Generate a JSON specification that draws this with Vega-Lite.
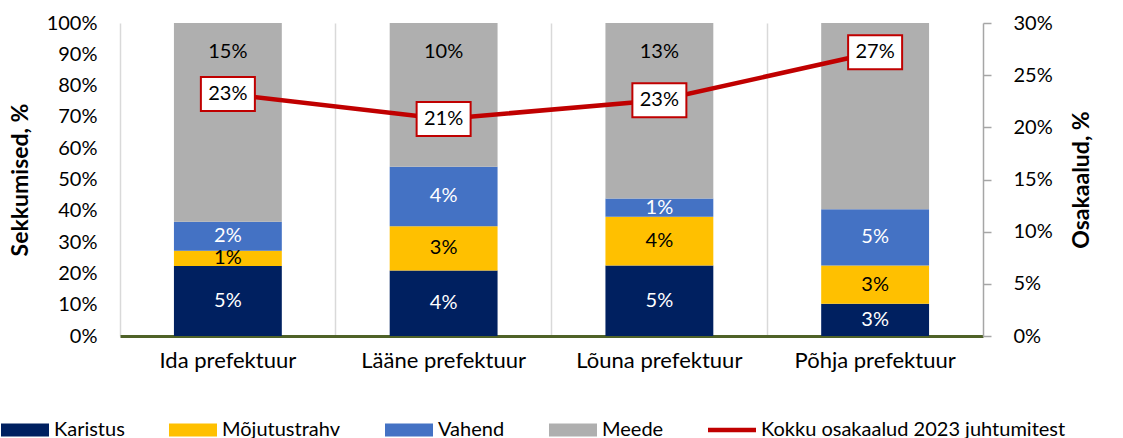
{
  "$schema": "https://vega.github.io/schema/vega-lite/v6.json",
  "width": 863,
  "height": 313,
  "autosize": {"type": "none"},
  "padding": {"left": 120, "top": 23, "right": 140, "bottom": 102},
  "config": {"font": "Lato", "view": {"stroke": null}},
  "datasets": {
    "bars": [
      {"region": "Ida prefektuur", "series": "Karistus", "ord": 1, "share": 0.224, "lbl": 0.05},
      {"region": "Ida prefektuur", "series": "Mõjutustrahv", "ord": 2, "share": 0.048, "lbl": 0.01},
      {"region": "Ida prefektuur", "series": "Vahend", "ord": 3, "share": 0.093, "lbl": 0.02},
      {"region": "Ida prefektuur", "series": "Meede", "ord": 4, "share": 0.635, "lbl": 0.15},
      {"region": "Lääne prefektuur", "series": "Karistus", "ord": 1, "share": 0.209, "lbl": 0.04},
      {"region": "Lääne prefektuur", "series": "Mõjutustrahv", "ord": 2, "share": 0.142, "lbl": 0.03},
      {"region": "Lääne prefektuur", "series": "Vahend", "ord": 3, "share": 0.190, "lbl": 0.04},
      {"region": "Lääne prefektuur", "series": "Meede", "ord": 4, "share": 0.459, "lbl": 0.10},
      {"region": "Lõuna prefektuur", "series": "Karistus", "ord": 1, "share": 0.225, "lbl": 0.05},
      {"region": "Lõuna prefektuur", "series": "Mõjutustrahv", "ord": 2, "share": 0.156, "lbl": 0.04},
      {"region": "Lõuna prefektuur", "series": "Vahend", "ord": 3, "share": 0.058, "lbl": 0.01},
      {"region": "Lõuna prefektuur", "series": "Meede", "ord": 4, "share": 0.561, "lbl": 0.13},
      {"region": "Põhja prefektuur", "series": "Karistus", "ord": 1, "share": 0.103, "lbl": 0.03},
      {"region": "Põhja prefektuur", "series": "Mõjutustrahv", "ord": 2, "share": 0.122, "lbl": 0.03},
      {"region": "Põhja prefektuur", "series": "Vahend", "ord": 3, "share": 0.180, "lbl": 0.05},
      {"region": "Põhja prefektuur", "series": "Meede", "ord": 4, "share": 0.595, "lbl": 0.16}
    ],
    "total": [
      {"region": "Ida prefektuur", "total": 0.232, "lbl": 0.23},
      {"region": "Lääne prefektuur", "total": 0.208, "lbl": 0.21},
      {"region": "Lõuna prefektuur", "total": 0.226, "lbl": 0.23},
      {"region": "Põhja prefektuur", "total": 0.272, "lbl": 0.27}
    ]
  },
  "layer": [
    {
      "data": {"name": "bars"},
      "mark": {"type": "bar", "width": {"band": 0.5}},
      "encoding": {
        "x": {
          "field": "region", "type": "nominal", "sort": null,
          "scale": {"paddingInner": 0, "paddingOuter": 0},
          "axis": {
            "title": null, "labelAngle": 0, "labelFontSize": 22, "labelColor": "#000000",
            "labelPadding": 14, "ticks": false, "domainColor": "#4F6228", "domainWidth": 3,
            "grid": false
          }
        },
        "y": {
          "field": "share", "type": "quantitative", "stack": "zero",
          "scale": {"domain": [0, 1]},
          "axis": {
            "values": [0, 0.1, 0.2, 0.3, 0.4, 0.5, 0.6, 0.7, 0.8, 0.9, 1],
            "format": ".0%", "domain": false, "ticks": false, "grid": false,
            "labelFontSize": 20, "labelColor": "#000000", "labelPadding": 23,
            "title": "Sekkumised, %", "titleFontSize": 23, "titleFontWeight": "bold",
            "titleColor": "#000000", "titlePadding": 14
          }
        },
        "color": {
          "field": "series", "type": "nominal",
          "scale": {
            "domain": ["Karistus", "Mõjutustrahv", "Vahend", "Meede", "Kokku osakaalud 2023 juhtumitest"],
            "range": ["#002060", "#FFC000", "#4472C4", "#AFAFAF", "#C00000"]
          },
          "legend": {
            "title": null, "orient": "none", "legendX": -119, "legendY": 383,
            "direction": "horizontal", "columns": 5,
            "symbolType": "M-1,-0.27L1,-0.27L1,0.27L-1,0.27Z", "symbolSize": 2304,
            "symbolStrokeWidth": 0, "symbolOpacity": 1,
            "labelFontSize": 20, "labelColor": "#000000", "labelOffset": 5,
            "columnPadding": 44, "labelLimit": 500,
            "encode": {
              "symbols": {
                "update": {
                  "shape": {"signal": "datum.value === 'Kokku osakaalud 2023 juhtumitest' ? 'M-1,-0.09L1,-0.09L1,0.09L-1,0.09Z' : 'M-1,-0.27L1,-0.27L1,0.27L-1,0.27Z'"}
                }
              }
            }
          }
        },
        "order": {"field": "ord", "type": "quantitative"}
      }
    },
    {
      "data": {"name": "bars"},
      "transform": [{"filter": "datum.series !== 'Meede'"}],
      "mark": {"type": "text", "fontSize": 20, "baseline": "middle"},
      "encoding": {
        "x": {"field": "region", "type": "nominal", "sort": null, "axis": null},
        "y": {"field": "share", "type": "quantitative", "stack": "zero", "bandPosition": 0.5, "scale": {"domain": [0, 1]}, "axis": null},
        "detail": {"field": "series"},
        "order": {"field": "ord", "type": "quantitative"},
        "text": {"field": "lbl", "type": "quantitative", "format": ".0%"},
        "color": {
          "condition": {"test": "datum.series === 'Karistus' || datum.series === 'Vahend'", "value": "#FFFFFF"},
          "value": "#000000"
        }
      }
    },
    {
      "data": {"name": "bars"},
      "transform": [{"filter": "datum.series === 'Meede'"}],
      "mark": {"type": "text", "fontSize": 20, "baseline": "middle", "dy": 29, "color": "#000000"},
      "encoding": {
        "x": {"field": "region", "type": "nominal", "sort": null, "axis": null},
        "y": {"datum": 1, "type": "quantitative", "scale": {"domain": [0, 1]}, "axis": null},
        "text": {"field": "lbl", "type": "quantitative", "format": ".0%"}
      }
    },
    {
      "data": {"name": "total"},
      "mark": {"type": "line", "color": "#C00000", "strokeWidth": 4.5},
      "encoding": {
        "x": {
          "field": "region", "type": "nominal", "sort": null,
          "axis": {
            "title": null, "labels": false, "ticks": false, "domain": false,
            "grid": true, "gridColor": "#D9D9D9", "gridWidth": 1.5, "bandPosition": 0
          }
        },
        "y": {
          "field": "total", "type": "quantitative", "scale": {"domain": [0, 0.3]},
          "axis": {
            "orient": "right",
            "values": [0, 0.05, 0.1, 0.15, 0.2, 0.25, 0.3],
            "format": ".0%", "grid": false,
            "domainColor": "#A6A6A6", "domainWidth": 1.5,
            "tickColor": "#A6A6A6", "tickSize": 8, "tickWidth": 1.5,
            "labelFontSize": 20, "labelColor": "#000000", "labelPadding": 22,
            "title": "Osakaalud, %", "titleFontSize": 23, "titleFontWeight": "bold",
            "titleColor": "#000000", "titleAngle": 270, "titlePadding": 41
          }
        }
      }
    },
    {
      "data": {"name": "total"},
      "mark": {
        "type": "point", "shape": "M-1,-0.63L1,-0.63L1,0.63L-1,0.63Z", "size": 2916,
        "filled": true, "fill": "#FFFFFF", "stroke": "#C00000", "strokeWidth": 2, "opacity": 1
      },
      "encoding": {
        "x": {"field": "region", "type": "nominal", "sort": null, "axis": null},
        "y": {"field": "total", "type": "quantitative", "scale": {"domain": [0, 0.3]}, "axis": null}
      }
    },
    {
      "data": {"name": "total"},
      "mark": {"type": "text", "fontSize": 20, "baseline": "middle", "color": "#000000"},
      "encoding": {
        "x": {"field": "region", "type": "nominal", "sort": null, "axis": null},
        "y": {"field": "total", "type": "quantitative", "scale": {"domain": [0, 0.3]}, "axis": null},
        "text": {"field": "lbl", "type": "quantitative", "format": ".0%"}
      }
    }
  ],
  "resolve": {"scale": {"y": "independent"}, "axis": {"x": "independent"}}
}
